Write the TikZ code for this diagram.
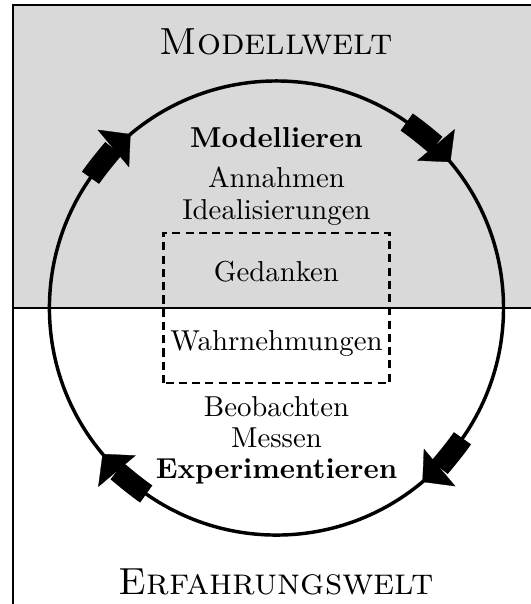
\documentclass[tikz,border=0pt]{standalone}
\usepackage{amsmath,amssymb}
\usepackage{tikz}
\usetikzlibrary{arrows.meta}

\begin{document}
\begin{tikzpicture}[
  flow/.style={line width=7.3pt,-{Triangle[length=7.8pt,width=17pt,line width=0.1pt]}},
  gedbox/.style={dash pattern=on 2.8pt off 1.8pt,line width=0.8pt},
  lbl/.style={anchor=base,inner sep=0pt},
  welt/.style={lbl,font=\fontsize{13.1pt}{16pt}\selectfont\scshape}]
  \useasboundingbox (-3.373,-3.611) rectangle (3.105,3.758);
  \coordinate (u1) at (0,0);
  \coordinate (u2) at (-3.215,3.70);
  \coordinate (u3) at (3.215,-3.70);
  \coordinate (u4) at (-3.215,0);
  \coordinate (u5) at (3.215,0);
  \fill[black!15]
    (u2)
    rectangle
    (u5);
  \draw[thick]
    (u2)
    rectangle
    (u3);
  \draw[thick]
    (u4)
    --
    (u5);
  \draw[gedbox]
    (-1.38,-0.915)
    rectangle
    (1.38,0.915);
  \draw[line width=1.2pt]
    (u1)
    circle
    [radius=2.77];
  % Kreislauf im Uhrzeigersinn
  \foreach \a in {145,55,325,235}
    \draw[flow]
      (\a:2.77)
      arc
      [start angle=\a,end angle=\a-15,radius=2.77];
  \node[welt] (w1) at (0,3.087) {Modellwelt};
  \node[welt] (w2) at (0,-3.50) {Erfahrungswelt};
  \node[lbl] (m1) at (0,1.964) {\textbf{Modellieren}};
  \node[lbl] (m2) at (0,1.476) {Annahmen};
  \node[lbl] (m3) at (0,1.074) {Idealisierungen};
  \node (g1) at (0,0.44) {Gedanken};
  \node (g2) at (0,-0.43) {Wahrnehmungen};
  \node[lbl] (e1) at (0,-1.318) {Beobachten};
  \node[lbl] (e2) at (0,-1.696) {Messen};
  \node[lbl] (e3) at (0,-2.074) {\textbf{Experimentieren}};
\end{tikzpicture}
\end{document}
